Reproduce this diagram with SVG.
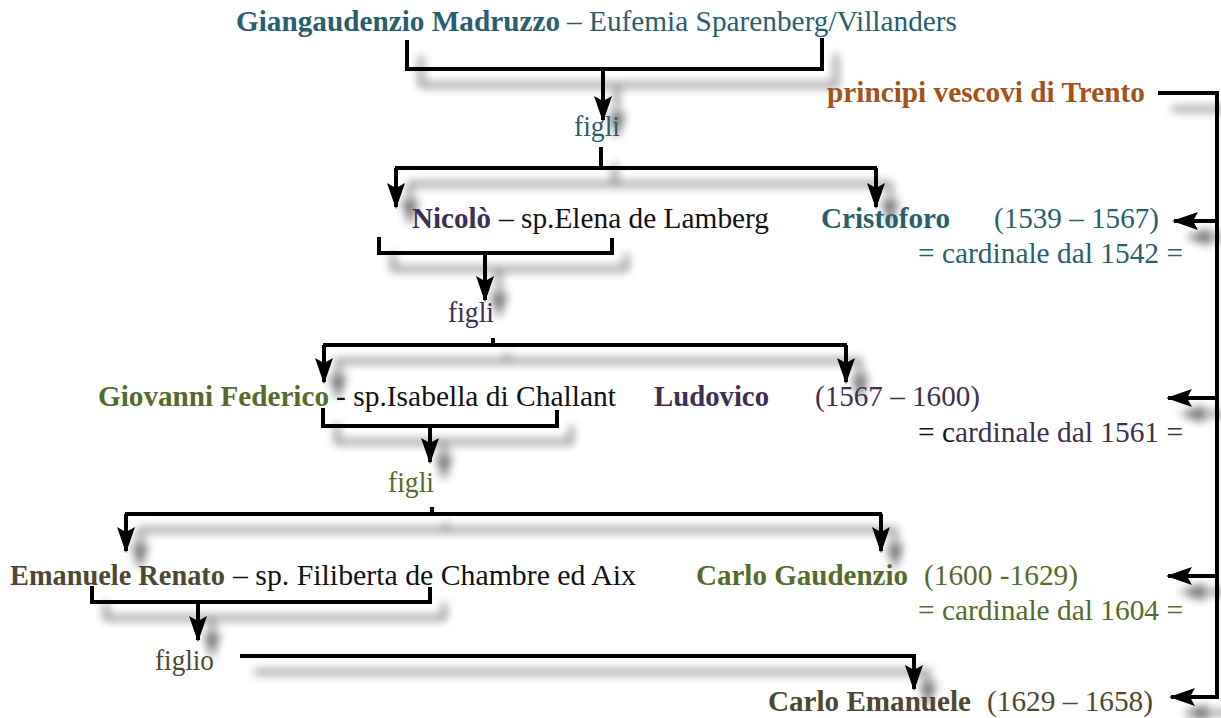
<svg xmlns="http://www.w3.org/2000/svg" width="1221" height="718" viewBox="0 0 1221 718">
<defs>
<style>
text{font-family:"Liberation Serif","Times New Roman",serif;font-size:29px;}
.b{font-weight:bold;}
.teal{fill:#2b5e6c;}
.pur{fill:#3e2f50;}
.grn{fill:#566a2e;}
.brn{fill:#4e4833;}
.org{fill:#a2531a;}
.blk{fill:#111;}
.ln{fill:none;stroke:#000;stroke-width:4;}
.ar{fill:none;stroke:#000;stroke-width:4;marker-end:url(#ah);}
</style>
<marker id="ah" markerUnits="userSpaceOnUse" markerWidth="26" markerHeight="20" viewBox="0 0 26 20" refX="24" refY="10" orient="auto">
<path d="M0,1 L26,10 L0,19 L5,10 Z" fill="#000"/>
</marker>
<filter id="sh" x="-10%" y="-10%" width="130%" height="140%">
<feGaussianBlur in="SourceAlpha" stdDeviation="5"/>
<feOffset dx="14" dy="16" result="b"/>
<feComponentTransfer in="b" result="s"><feFuncA type="linear" slope="0.6"/></feComponentTransfer>
<feMerge><feMergeNode in="s"/><feMergeNode in="SourceGraphic"/></feMerge>
</filter>
</defs>
<rect width="1221" height="718" fill="#fff"/>
<g id="connectors" filter="url(#sh)">
<path class="ln" d="M407,40 V69 H822 V38"/>
<path class="ar" d="M603,69 V120"/>
<path class="ln" d="M601,147 V168 M395,168 H877"/>
<path class="ar" d="M396,168 V207"/>
<path class="ar" d="M876,168 V207"/>
<path class="ln" d="M379,237 V253 H612 V238"/>
<path class="ar" d="M485,253 V300"/>
<path class="ln" d="M493,338 V345 M323,345 H847"/>
<path class="ar" d="M324,345 V382"/>
<path class="ar" d="M846,345 V382"/>
<path class="ln" d="M323,408 V426 H557 V410"/>
<path class="ar" d="M430,426 V462"/>
<path class="ln" d="M432,507 V514 M125,514 H882"/>
<path class="ar" d="M126,514 V551"/>
<path class="ar" d="M881,514 V551"/>
<path class="ln" d="M92,586 V602 H430 V587"/>
<path class="ar" d="M198,602 V640"/>
<path class="ln" d="M240,656 H914"/>
<path class="ar" d="M914,654 V689"/>
<path class="ln" d="M1158,93 H1217 V699"/>
<path class="ar" d="M1219,221 H1174"/>
<path class="ar" d="M1219,398 H1168"/>
<path class="ar" d="M1219,576 H1168"/>
<path class="ar" d="M1219,697 H1171"/>
</g>
<g id="n-giangaudenzio">
<text class="b teal" x="236" y="31" textLength="324" lengthAdjust="spacingAndGlyphs">Giangaudenzio Madruzzo</text>
<text class="teal" x="567" y="31" textLength="390" lengthAdjust="spacingAndGlyphs">– Eufemia Sparenberg/Villanders</text>
</g>
<g id="n-figli1"><text class="teal" x="574" y="136" textLength="46" lengthAdjust="spacingAndGlyphs">figli</text></g>
<g id="n-principi"><text class="b org" x="827" y="102" textLength="318" lengthAdjust="spacingAndGlyphs">principi vescovi di Trento</text></g>
<g id="n-nicolo">
<text class="b pur" x="412" y="228" textLength="79" lengthAdjust="spacingAndGlyphs">Nicolò</text>
<text class="blk" x="499" y="228" textLength="270" lengthAdjust="spacingAndGlyphs">– sp.Elena de Lamberg</text>
</g>
<g id="n-cristoforo">
<text class="b teal" x="821" y="228" textLength="129" lengthAdjust="spacingAndGlyphs">Cristoforo</text>
<text class="teal" x="994" y="228" textLength="165" lengthAdjust="spacingAndGlyphs">(1539 – 1567)</text>
<text class="teal" x="918" y="263" textLength="265" lengthAdjust="spacingAndGlyphs">= cardinale dal 1542 =</text>
</g>
<g id="n-figli2"><text class="pur" x="448" y="322" textLength="46" lengthAdjust="spacingAndGlyphs">figli</text></g>
<g id="n-giovanni">
<text class="b grn" x="98" y="406" textLength="231" lengthAdjust="spacingAndGlyphs">Giovanni Federico</text>
<text class="blk" x="336" y="406" textLength="280" lengthAdjust="spacingAndGlyphs">- sp.Isabella di Challant</text>
</g>
<g id="n-ludovico">
<text class="b pur" x="654" y="406" textLength="115" lengthAdjust="spacingAndGlyphs">Ludovico</text>
<text class="pur" x="815" y="406" textLength="165" lengthAdjust="spacingAndGlyphs">(1567 – 1600)</text>
<text class="pur" x="918" y="442" textLength="265" lengthAdjust="spacingAndGlyphs"><tspan class="blk">= c</tspan>ardinale dal 1561 =</text>
</g>
<g id="n-figli3"><text class="grn" x="388" y="492" textLength="46" lengthAdjust="spacingAndGlyphs">figli</text></g>
<g id="n-emanuele">
<text class="b brn" x="10" y="585" textLength="215" lengthAdjust="spacingAndGlyphs">Emanuele Renato</text>
<text class="blk" x="233" y="585" textLength="403" lengthAdjust="spacingAndGlyphs">– sp. Filiberta de Chambre ed Aix</text>
</g>
<g id="n-carlogaudenzio">
<text class="b grn" x="696" y="585" textLength="212" lengthAdjust="spacingAndGlyphs">Carlo Gaudenzio</text>
<text class="grn" x="924" y="585" textLength="154" lengthAdjust="spacingAndGlyphs">(1600 -1629)</text>
<text class="grn" x="918" y="620" textLength="265" lengthAdjust="spacingAndGlyphs">= cardinale dal 1604 =</text>
</g>
<g id="n-figlio"><text class="brn" x="155" y="670" textLength="59" lengthAdjust="spacingAndGlyphs">figlio</text></g>
<g id="n-carloemanuele">
<text class="b brn" x="768" y="711" textLength="203" lengthAdjust="spacingAndGlyphs">Carlo Emanuele</text>
<text class="brn" x="987" y="711" textLength="166" lengthAdjust="spacingAndGlyphs">(1629 – 1658)</text>
</g>
</svg>
